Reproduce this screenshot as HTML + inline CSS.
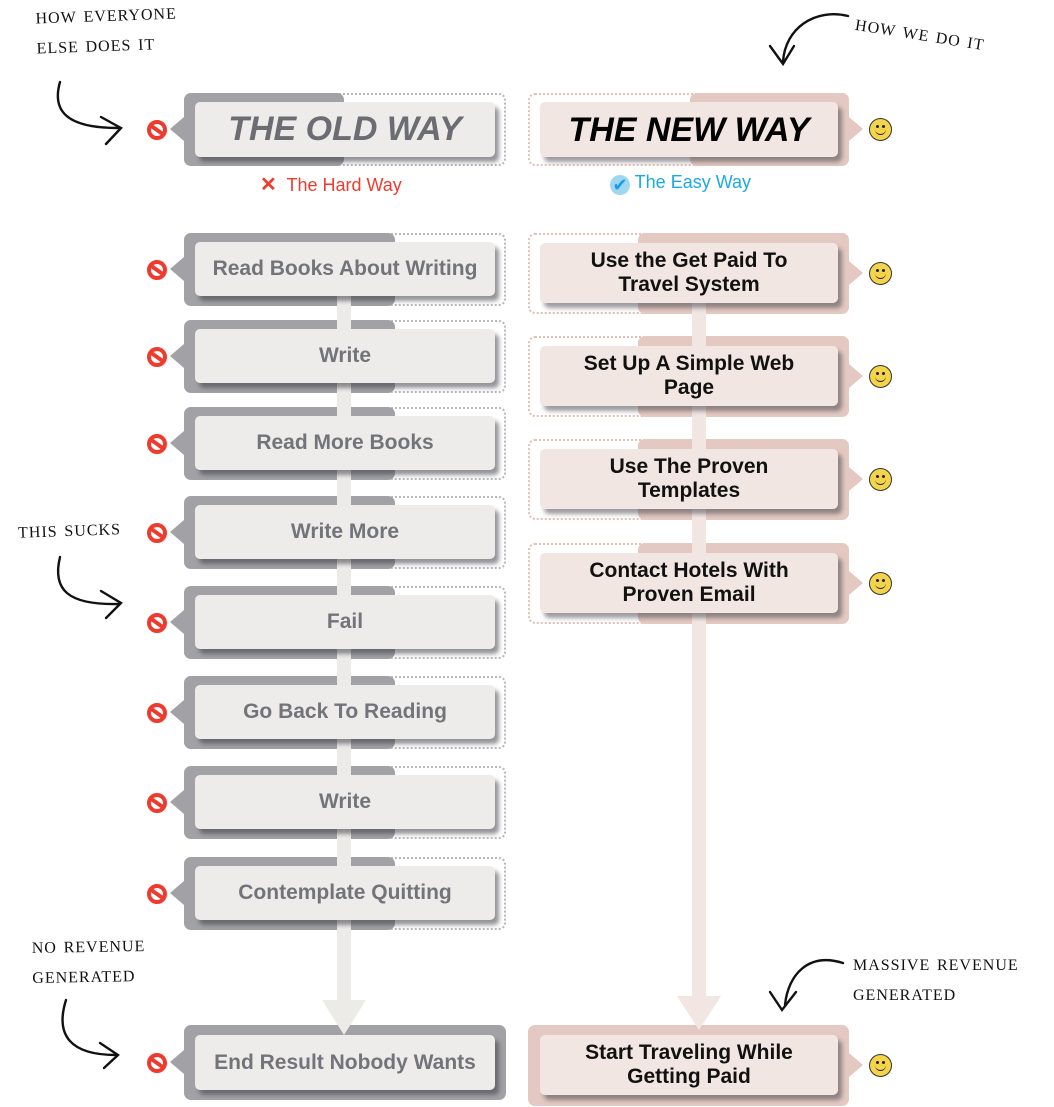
<!DOCTYPE html>
<html><head><meta charset="utf-8"><style>
body{margin:0;width:1054px;height:1107px;background:#fff;position:relative;overflow:hidden;font-family:"Liberation Sans",sans-serif}
.a{position:absolute}
.ld{background:#a2a2a6;border-radius:7px}
.lo{border:2px dotted #b9b9bc;border-radius:7px;box-sizing:border-box}
.li{background:#edecea;border-radius:5px;box-shadow:4px 5px 4px rgba(60,60,70,.55);color:#737479;font-weight:bold;font-size:21px;display:flex;align-items:center;justify-content:center;text-align:center;z-index:3}
.rd{background:#e3c9c1;border-radius:7px}
.ro{border:2px dotted #e3c0b6;border-radius:7px;box-sizing:border-box}
.ri{background:#f2e6e2;border-radius:5px;box-shadow:4px 5px 4px rgba(60,60,70,.5);color:#111;font-weight:bold;font-size:21px;line-height:24px;display:flex;align-items:center;justify-content:center;text-align:center;z-index:3}
.tl{width:0;height:0;border-top:12px solid transparent;border-bottom:12px solid transparent;border-right:14px solid #a2a2a6}
.tr{width:0;height:0;border-top:12px solid transparent;border-bottom:12px solid transparent;border-left:14px solid #e3c9c1}
.no{width:12px;height:12px;border:4px solid #ef3b2d;border-radius:50%;background:#fff}
.no:after{content:"";position:absolute;left:-2px;top:4px;width:16px;height:4px;background:#ef3b2d;transform:rotate(35deg)}
.sm{width:21px;height:21px;border:1.5px solid #333;border-radius:50%;background:#f3d44a}
.sm:before{content:"";position:absolute;left:6px;top:6px;width:3px;height:3px;border-radius:50%;background:#222;box-shadow:6px 0 0 #222}
.sm:after{content:"";position:absolute;left:5px;top:8px;width:11px;height:7px;border-bottom:1.5px solid #222;border-radius:0 0 8px 8px}
.ann{position:absolute;font-family:"Liberation Serif",serif;font-variant:small-caps;font-size:23px;color:#111;letter-spacing:1px;line-height:30px}
</style></head><body>

<div class="a" style="left:337px;top:290px;width:14px;height:712px;background:#ecebe8;z-index:2"></div>
<div class="a" style="left:322px;top:1000px;width:0;height:0;border-left:22px solid transparent;border-right:22px solid transparent;border-top:35px solid #ecebe8;z-index:2"></div>
<div class="a" style="left:692px;top:296px;width:14px;height:702px;background:#f2e6e2;z-index:2"></div>
<div class="a" style="left:677px;top:996px;width:0;height:0;border-left:22px solid transparent;border-right:22px solid transparent;border-top:34px solid #f2e6e2;z-index:2"></div>

<div class="a lo" style="left:184px;top:93px;width:322px;height:73px"></div>
<div class="a ld" style="left:184px;top:93px;width:160px;height:73px"></div>
<div class="a tl" style="left:170px;top:117px"></div>
<div class="a no" style="left:147px;top:120px"></div>
<div class="a li" style="left:195px;top:102px;width:300px;height:55px;font-size:34px;font-style:italic;color:#6c6d72">THE OLD WAY</div>
<div class="a" style="left:260px;top:172px;font-size:18px;color:#ef3b2d"><b style="font-size:20px">✕</b>&nbsp; The Hard Way</div>

<div class="a ro" style="left:528px;top:93px;width:321px;height:73px"></div>
<div class="a rd" style="left:690px;top:93px;width:159px;height:73px"></div>
<div class="a tr" style="left:849px;top:117px"></div>
<div class="a sm" style="left:869px;top:118px"></div>
<div class="a ri" style="left:540px;top:102px;width:298px;height:55px;font-size:34px;font-style:italic;color:#000">THE NEW WAY</div>
<div class="a" style="left:610px;top:172px;font-size:18px;color:#1aa8e6"><span style="display:inline-block;width:20px;height:20px;border-radius:50%;background:#9fd7f2;color:#1a9fe0;font-size:18px;line-height:20px;text-align:center;vertical-align:-3px">✔</span> The Easy Way</div>

<div class="a lo" style="left:184px;top:233px;width:322px;height:73px"></div><div class="a ld" style="left:184px;top:233px;width:211px;height:73px"></div><div class="a tl" style="left:170px;top:257px"></div><div class="a no" style="left:147px;top:260px"></div><div class="a li" style="left:195px;top:242px;width:300px;height:54px">Read Books About Writing</div>

<div class="a lo" style="left:184px;top:320px;width:322px;height:73px"></div><div class="a ld" style="left:184px;top:320px;width:211px;height:73px"></div><div class="a tl" style="left:170px;top:344px"></div><div class="a no" style="left:147px;top:347px"></div><div class="a li" style="left:195px;top:329px;width:300px;height:54px">Write</div>

<div class="a lo" style="left:184px;top:407px;width:322px;height:73px"></div><div class="a ld" style="left:184px;top:407px;width:211px;height:73px"></div><div class="a tl" style="left:170px;top:431px"></div><div class="a no" style="left:147px;top:434px"></div><div class="a li" style="left:195px;top:416px;width:300px;height:54px">Read More Books</div>

<div class="a lo" style="left:184px;top:496px;width:322px;height:73px"></div><div class="a ld" style="left:184px;top:496px;width:211px;height:73px"></div><div class="a tl" style="left:170px;top:520px"></div><div class="a no" style="left:147px;top:523px"></div><div class="a li" style="left:195px;top:505px;width:300px;height:54px">Write More</div>

<div class="a lo" style="left:184px;top:586px;width:322px;height:73px"></div><div class="a ld" style="left:184px;top:586px;width:211px;height:73px"></div><div class="a tl" style="left:170px;top:610px"></div><div class="a no" style="left:147px;top:613px"></div><div class="a li" style="left:195px;top:595px;width:300px;height:54px">Fail</div>

<div class="a lo" style="left:184px;top:676px;width:322px;height:73px"></div><div class="a ld" style="left:184px;top:676px;width:211px;height:73px"></div><div class="a tl" style="left:170px;top:700px"></div><div class="a no" style="left:147px;top:703px"></div><div class="a li" style="left:195px;top:685px;width:300px;height:54px">Go Back To Reading</div>

<div class="a lo" style="left:184px;top:766px;width:322px;height:73px"></div><div class="a ld" style="left:184px;top:766px;width:211px;height:73px"></div><div class="a tl" style="left:170px;top:790px"></div><div class="a no" style="left:147px;top:793px"></div><div class="a li" style="left:195px;top:775px;width:300px;height:54px">Write</div>

<div class="a lo" style="left:184px;top:857px;width:322px;height:73px"></div><div class="a ld" style="left:184px;top:857px;width:211px;height:73px"></div><div class="a tl" style="left:170px;top:881px"></div><div class="a no" style="left:147px;top:884px"></div><div class="a li" style="left:195px;top:866px;width:300px;height:54px">Contemplate Quitting</div>

<div class="a ld" style="left:184px;top:1025px;width:322px;height:75px"></div><div class="a tl" style="left:170px;top:1050px"></div><div class="a no" style="left:147px;top:1053px"></div><div class="a li" style="left:195px;top:1035px;width:300px;height:55px">End Result Nobody Wants</div>

<div class="a ro" style="left:528px;top:233px;width:321px;height:81px"></div><div class="a rd" style="left:638px;top:233px;width:211px;height:81px"></div><div class="a tr" style="left:849px;top:261px"></div><div class="a sm" style="left:869px;top:262px"></div><div class="a ri" style="left:540px;top:243px;width:298px;height:60px">Use the Get Paid To<br>Travel System</div>

<div class="a ro" style="left:528px;top:336px;width:321px;height:81px"></div><div class="a rd" style="left:638px;top:336px;width:211px;height:81px"></div><div class="a tr" style="left:849px;top:364px"></div><div class="a sm" style="left:869px;top:365px"></div><div class="a ri" style="left:540px;top:346px;width:298px;height:60px">Set Up A Simple Web<br>Page</div>

<div class="a ro" style="left:528px;top:439px;width:321px;height:81px"></div><div class="a rd" style="left:638px;top:439px;width:211px;height:81px"></div><div class="a tr" style="left:849px;top:467px"></div><div class="a sm" style="left:869px;top:468px"></div><div class="a ri" style="left:540px;top:449px;width:298px;height:60px">Use The Proven<br>Templates</div>

<div class="a ro" style="left:528px;top:543px;width:321px;height:81px"></div><div class="a rd" style="left:638px;top:543px;width:211px;height:81px"></div><div class="a tr" style="left:849px;top:571px"></div><div class="a sm" style="left:869px;top:572px"></div><div class="a ri" style="left:540px;top:553px;width:298px;height:60px">Contact Hotels With<br>Proven Email</div>

<div class="a rd" style="left:528px;top:1025px;width:321px;height:81px"></div><div class="a tr" style="left:849px;top:1053px"></div><div class="a sm" style="left:869px;top:1054px"></div><div class="a ri" style="left:540px;top:1035px;width:298px;height:60px">Start Traveling While<br>Getting Paid</div>

<div class="ann" style="left:36px;top:-1px;transform:rotate(-2deg)">how everyone<br>else does it</div>
<div class="ann" style="left:858px;top:8px;transform:rotate(9deg);transform-origin:left top">how we do it</div>
<div class="ann" style="left:18px;top:514px;transform:rotate(-2deg)">this sucks</div>
<div class="ann" style="left:32px;top:930px;transform:rotate(-1deg)">no revenue<br>generated</div>
<div class="ann" style="left:853px;top:948px">massive revenue<br>generated</div>

<svg class="a" style="left:0;top:0;z-index:5" width="1054" height="1107" fill="none" stroke="#111" stroke-width="2.4" stroke-linecap="round">
<path d="M60 82 C52 110 65 128 118 128"/><path d="M101 117 L121 128 L106 144"/>
<path d="M60 557 C52 590 68 605 118 604"/><path d="M101 591 L121 603 L106 618"/>
<path d="M66 1000 C55 1035 70 1055 116 1055"/><path d="M100 1043 L118 1055 L104 1068"/>
<path d="M848 16 C815 8 785 28 783 62"/><path d="M770 46 L783 64 L794 46"/>
<path d="M843 963 C808 952 788 975 785 1005"/><path d="M770 992 L782 1010 L796 992"/>
</svg>
</body></html>
